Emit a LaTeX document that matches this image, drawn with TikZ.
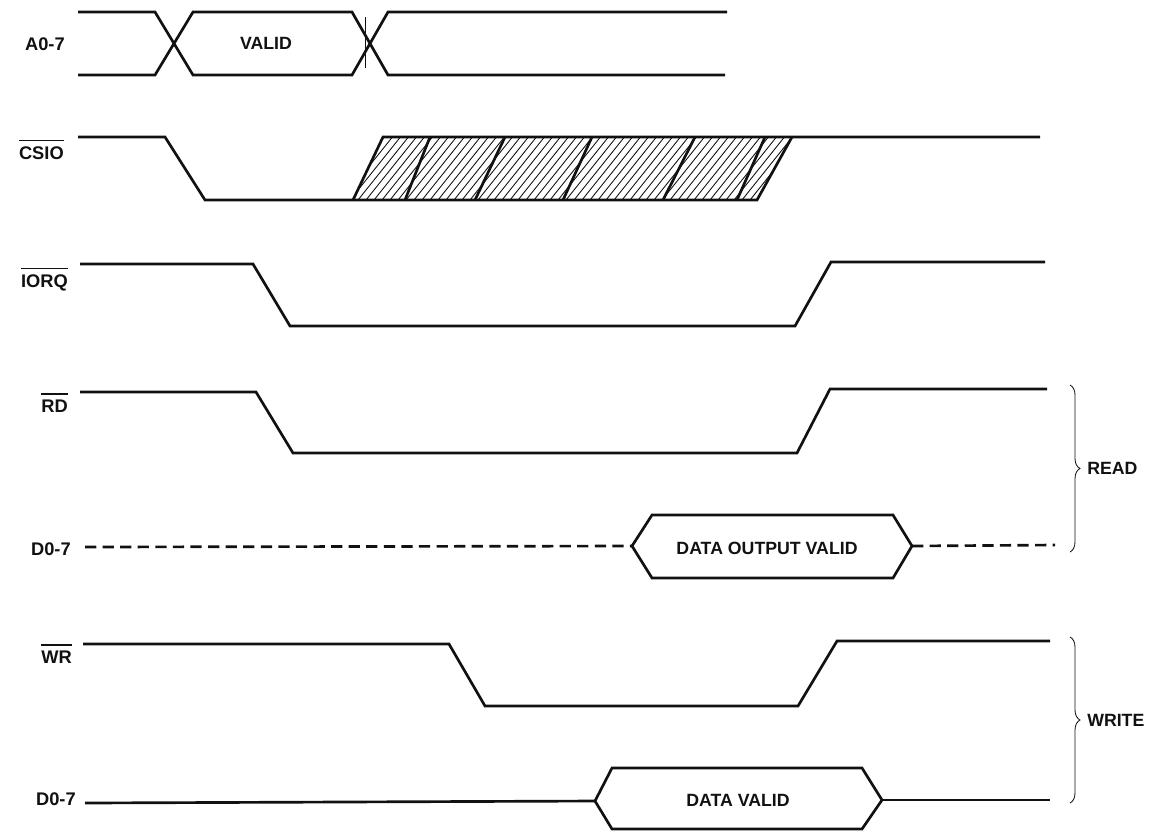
\documentclass[tikz,border=0pt]{standalone}
\usepackage{fontspec}
\setmainfont{Liberation Sans}
\usetikzlibrary{decorations.pathreplacing}
\definecolor{timingink}{HTML}{111111}
\newcommand{\activelow}[1]{\vbox{\hrule height 1.1pt\kern 3.4pt\hbox{#1}}}
\tikzset{
  wave/.style={line width=1.9pt, draw=timingink, line join=miter},
  waved/.style={wave, dash pattern=on 8pt off 4.5pt},
  hatch/.style={line width=0.6pt, draw=timingink},
  marker/.style={line width=0.6pt, draw=timingink},
  sig/.style={font=\bfseries\fontsize{13}{15}\selectfont, text=timingink, inner sep=0pt, anchor=base east},
  txt/.style={font=\bfseries\fontsize{12.6}{15}\selectfont, text=timingink, inner sep=0pt},
  grp/.style={decorate, decoration={brace, amplitude=0.25cm}, line width=0.6pt, draw=timingink},
}

\begin{document}
\begin{tikzpicture}[x=0.025cm, y=-0.025cm]
  \useasboundingbox (0,0) rectangle (1155,831);
  % address bus
  \draw[wave] (78,12) -- (155,12) -- (193,75) -- (352,75) -- (388,12) -- (727,12);
  \draw[wave] (78,75) -- (155,75) -- (193,12) -- (352,12) -- (388,75) -- (725,75);
  \draw[marker] (365,17) -- (365,68);
  \node[sig] (a07) at (65,50) {A0-7};
  \node[txt] (valid) at (266,43) {VALID};
  % chip select
  \draw[wave] (78,137) -- (165,137) -- (205,200) -- (757,200) -- (792,137);
  \draw[wave] (353,200) -- (383,137) -- (1040,137);
  \begin{scope}
    \clip (353,200) -- (383,137) -- (792,137) -- (757,200) -- cycle;
    \foreach \h in {290,298,...,798} \draw[hatch] (\h,205) -- ++(60,-75);
  \end{scope}
  \foreach \t/\b in {430/405, 505/475, 592/563, 695/663, 765/737}
    \draw[wave] (\t,137) -- (\b,200);
  \node[sig] (csio) at (64,159) {\activelow{CSIO}};
  % control lines
  \draw[wave] (80,264) -- (253,264) -- (290,326) -- (795,326) -- (831,262) -- (1045,262);
  \node[sig] (iorq) at (68,287) {\activelow{IORQ}};
  \draw[wave] (80,392) -- (256,392) -- (293,453) -- (797,453) -- (830,389) -- (1047,389);
  \node[sig] (rd) at (68,412) {\activelow{RD}};
  % read data
  \draw[waved] (85,547) -- (632,546);
  \draw[wave] (632,546) -- (652,515) -- (893,515) -- (912,546) -- (893,578) -- (652,578) -- cycle;
  \draw[waved] (912,546) -- (1055,545);
  \node[sig] (drd) at (71,555) {D0-7};
  \node[txt] (dov) at (767,548) {DATA OUTPUT VALID};
  % write strobe and data
  \draw[wave] (83,644) -- (449,644) -- (485,706) -- (798,706) -- (837,641) -- (1050,641);
  \node[sig] (wr) at (72,663) {\activelow{WR}};
  \draw[wave] (85,803) -- (595,801);
  \draw[wave] (595,801) -- (612,768) -- (862,768) -- (882,800) -- (862,829) -- (612,829) -- cycle;
  \draw[wave] (882,800) -- (1050,800);
  \node[sig] (dwr) at (76,805) {D0-7};
  \node[txt] (dv) at (738,800) {DATA VALID};
  % cycle braces
  \draw[grp] (1070,385) -- (1070,552);
  \node[txt, anchor=west] (read) at (1087,468) {READ};
  \draw[grp] (1070,637) -- (1070,803);
  \node[txt, anchor=west] (write) at (1087,720) {WRITE};
\end{tikzpicture}
\end{document}
